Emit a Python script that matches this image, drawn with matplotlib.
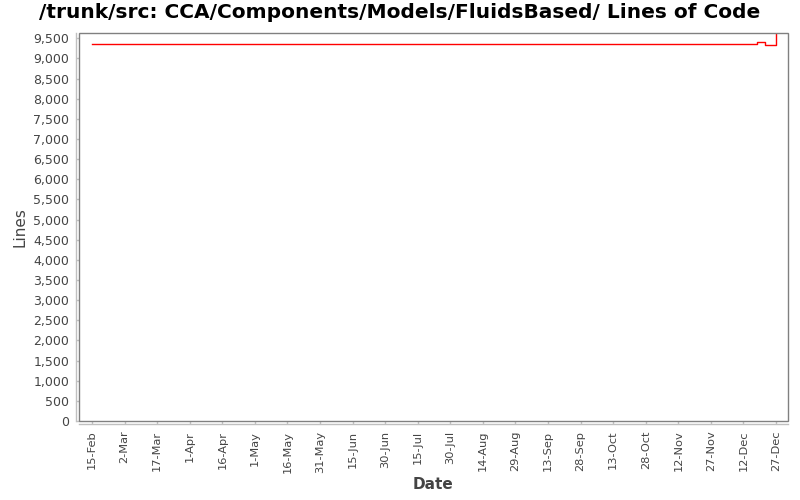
import matplotlib
matplotlib.use("Agg")
import matplotlib.pyplot as plt
from matplotlib.ticker import FuncFormatter, MultipleLocator
from matplotlib.patches import Rectangle
import datetime as dt

# data
dates = ["2007-02-15", "2007-02-24", "2007-04-13", "2007-04-20", "2007-10-13",
         "2007-10-25", "2007-11-21", "2007-12-18", "2007-12-20", "2007-12-22",
         "2007-12-27"]
lines = [9345, 9355, 9357, 9356, 9357, 9358, 9360, 9395, 9405, 9325, 9640]
tick_start = "2007-02-15"
n_ticks = 22
tick_step_days = 15

x = [dt.datetime.strptime(d, "%Y-%m-%d") for d in dates]

fig = plt.figure(figsize=(8, 5), dpi=100)
L, R, T, B = 79/800, 788/800, 1-33/500, 1-421/500
ax = fig.add_axes([L, B, R-L, T-B])

ax.plot(x, lines, color="#ff0000", lw=1.0, drawstyle="steps-post", clip_on=True)

ax.set_xlim(dt.datetime(2007, 2, 9), dt.datetime(2008, 1, 1, 12))
ax.set_ylim(0, 9630)

t0 = dt.datetime.strptime(tick_start, "%Y-%m-%d")
ticks = [t0 + dt.timedelta(days=tick_step_days*k) for k in range(n_ticks)]
ax.set_xticks(ticks)
ax.set_xticklabels([f"{t.day}-{t.strftime('%b')}" for t in ticks], rotation=90)
ax.yaxis.set_major_locator(MultipleLocator(500))
ax.yaxis.set_major_formatter(FuncFormatter(lambda v, p: f"{int(v):,}"))

for s in ["top", "right", "left", "bottom"]:
    ax.spines[s].set_visible(False)
# plot border
ax.add_patch(Rectangle((0, 0), 1, 1, transform=ax.transAxes, fill=False,
                       edgecolor="#808080", lw=1.0, zorder=5, clip_on=False))
# offset axis lines
fig.add_artist(plt.Line2D([76/800, 76/800], [1-421/500, 1-33/500], color="#c0c0c0", lw=1.0))
fig.add_artist(plt.Line2D([79/800, 788/800], [1-424/500, 1-424/500], color="#c0c0c0", lw=1.0))

ax.tick_params(axis="both", colors="#c0c0c0", labelcolor="#444444",
               length=2, width=1, direction="out")
ax.tick_params(axis="y", pad=5, labelsize=9)
ax.tick_params(axis="x", pad=5, labelsize=8.2)

ax.set_ylabel("Lines", fontsize=11, color="#444444", labelpad=4)
ax.set_xlabel("Date", fontsize=11, color="#444444", fontweight="bold", labelpad=3)
fig.text(0.5, 1-13/500, "/trunk/src: CCA/Components/Models/FluidsBased/ Lines of Code",
         ha="center", va="center", fontsize=14.5, fontweight="bold", color="black")

fig.savefig("out.png", dpi=100, facecolor="white")
